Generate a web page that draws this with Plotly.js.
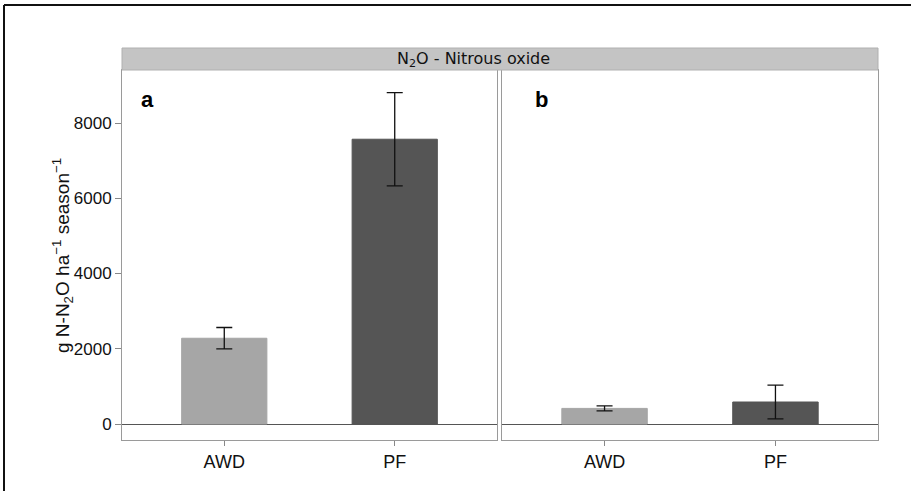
<!DOCTYPE html>
<html>
<head>
<meta charset="utf-8">
<script src="https://cdn.plot.ly/plotly-3.0.1.min.js"></script>
<style>html,body{margin:0;padding:0;background:#fff;}#chart{width:911px;height:491px;}</style>
</head>
<body>
<div id="chart"></div>
<script>
const categories = ['AWD', 'PF'];
const panelA_means = [2280, 7570];
const panelA_err = [285, 1240];
const panelB_means = [415, 585];
const panelB_err = [65, 450];
const barColors = ['#a6a6a6', '#555555'];
const yTicks = [0, 2000, 4000, 6000, 8000];
const stripTitle = 'N<sub>2</sub>O - Nitrous oxide';
const yTitle = 'g N-N<sub>2</sub>O ha<sup>\u22121</sup> season<sup>\u22121</sup>';

const W = 911, H = 491;
const L = 122, R = 878, T = 70, B = 440;
const pw = R - L, ph = B - T;
const px = x => (x - L) / pw;
const py = y => (B - y) / ph;

function barTrace(means, errs, xa, ya) {
  return {
    type: 'bar', x: categories, y: means, xaxis: xa, yaxis: ya,
    width: 0.5,
    marker: {color: barColors, line: {color: barColors, width: 1}},
    error_y: {type: 'data', array: errs, visible: true, color: '#111', thickness: 1.3, width: 8},
    showlegend: false, hoverinfo: 'skip'
  };
}

const data = [
  barTrace(panelA_means, panelA_err, 'x', 'y'),
  barTrace(panelB_means, panelB_err, 'x2', 'y2')
];

const yRange = [-425, 9410];
const common = {
  showline: true, mirror: true, linecolor: '#9a9a9a', linewidth: 1,
  showgrid: false, fixedrange: true
};

const layout = {
  width: W, height: H,
  margin: {l: L, r: W - R, t: T, b: H - B, pad: 0},
  paper_bgcolor: '#ffffff', plot_bgcolor: '#ffffff',
  font: {family: 'Arial, Liberation Sans, sans-serif', color: '#222'},
  bargap: 0,
  xaxis: Object.assign({}, common, {
    domain: [0, px(497)], range: [-0.6, 1.6], type: 'category',
    ticks: 'outside', ticklen: 5, tickcolor: '#888', tickfont: {size: 18, color: '#111'}
  }),
  xaxis2: Object.assign({}, common, {
    domain: [px(502), 1], range: [-0.6, 1.6], type: 'category', anchor: 'y2',
    ticks: 'outside', ticklen: 5, tickcolor: '#888', tickfont: {size: 18, color: '#111'}
  }),
  yaxis: Object.assign({}, common, {
    range: yRange, tickvals: yTicks, ticks: 'outside', ticklen: 6, tickcolor: '#888',
    tickfont: {size: 17, color: '#111'},
    zeroline: true, zerolinecolor: '#555', zerolinewidth: 1
  }),
  yaxis2: Object.assign({}, common, {
    range: yRange, anchor: 'x2', showticklabels: false, ticks: '',
    zeroline: true, zerolinecolor: '#555', zerolinewidth: 1
  }),
  shapes: [
    {type: 'rect', xref: 'paper', yref: 'paper', x0: 0, x1: 1, y0: 1, y1: py(48),
     fillcolor: '#c4c4c4', line: {color: '#b0b0b0', width: 1}},
    {type: 'line', xref: 'paper', yref: 'paper', x0: px(4), x1: px(911), y0: py(5), y1: py(5),
     line: {color: '#111', width: 2}},
    {type: 'line', xref: 'paper', yref: 'paper', x0: px(4), x1: px(4), y0: py(5), y1: py(491),
     line: {color: '#111', width: 2}}
  ],
  annotations: [
    {xref: 'paper', yref: 'paper', x: px(473), y: py(59.5), text: stripTitle, showarrow: false,
     xanchor: 'center', yanchor: 'middle',
     font: {family: 'DejaVu Sans, Verdana, sans-serif', size: 16, color: '#111'}},
    {xref: 'paper', yref: 'paper', x: px(147), y: py(99), text: '<b>a</b>', showarrow: false,
     xanchor: 'center', yanchor: 'middle', font: {size: 22, color: '#000'}},
    {xref: 'paper', yref: 'paper', x: px(541), y: py(99), text: '<b>b</b>', showarrow: false,
     xanchor: 'center', yanchor: 'middle', font: {size: 22, color: '#000'}},
    {xref: 'paper', yref: 'paper', x: px(62), y: py(256), text: yTitle, showarrow: false,
     textangle: -90, xanchor: 'center', yanchor: 'middle', font: {size: 19, color: '#111'}}
  ]
};

Plotly.newPlot('chart', data, layout, {displayModeBar: false, staticPlot: true});
</script>
</body>
</html>
